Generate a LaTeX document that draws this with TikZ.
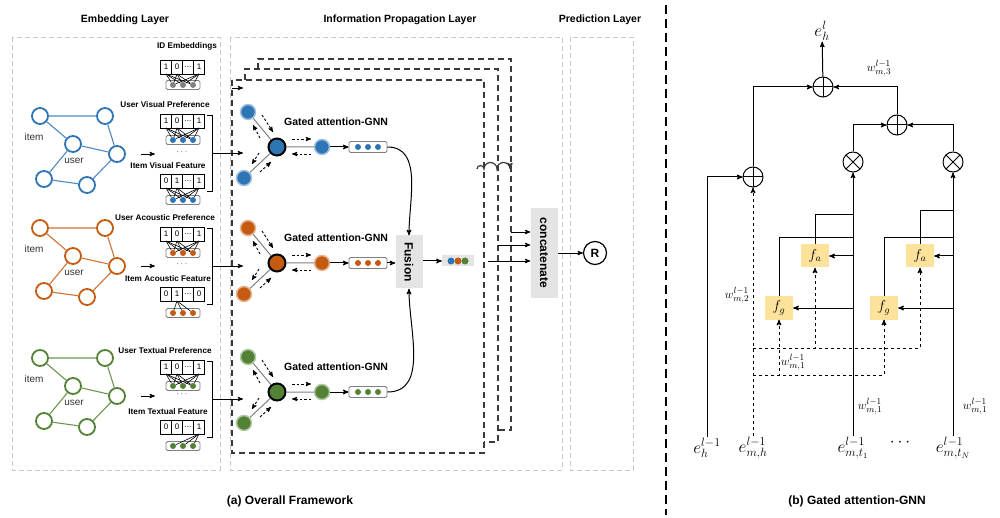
\documentclass[tikz,border=0pt]{standalone}
\usepackage{fontspec}
\setmainfont{Liberation Sans}
\usetikzlibrary{positioning, arrows, calc}

\definecolor{vis}{HTML}{2E75B6}
\definecolor{aco}{HTML}{C55A11}
\definecolor{txt}{HTML}{548235}
\definecolor{frm}{HTML}{3A3A3A}
\definecolor{lgray}{HTML}{C8C8C8}
\definecolor{fbox}{HTML}{E4E4E4}
\definecolor{fyel}{HTML}{FCE29A}

\tikzset{>=stealth',
  layertitle/.style={font=\bfseries\fontsize{10.5}{12}\selectfont},
  capt/.style={font=\bfseries\fontsize{12}{14}\selectfont},
  smalltag/.style={font=\bfseries\fontsize{8.2}{9}\selectfont, inner sep=1pt},
  gnnlabel/.style={font=\bfseries\fontsize{10.5}{12}\selectfont},
  plain/.style={font=\fontsize{10}{11}\selectfont, text=black!80},
  gnode/.style={circle, draw, fill=white, line width=1.8pt, minimum size=16pt, inner sep=0pt},
  gedge/.style={line width=1.1pt},
  vcell/.style={draw, line width=0.8pt, minimum width=11pt, minimum height=14pt, inner sep=0pt, outer sep=0pt, font=\fontsize{8}{8}\selectfont},
  dotbox/.style={draw=gray, line width=0.8pt, rounded corners=1.5pt, minimum width=34pt, minimum height=9pt, inner sep=0pt},
  edot/.style={circle, inner sep=0pt, minimum size=6pt},
  anode/.style={circle, inner sep=0pt, minimum size=15pt, line width=1.5pt},
  gframe/.style={dash pattern=on 6pt off 4pt, line width=1.3pt, draw=frm},
  lbox/.style={dash pattern=on 5pt off 3pt, draw=lgray, line width=0.8pt},
  darrow/.style={->, dash pattern=on 2.5pt off 2pt, line width=0.9pt},
  opbox/.style={fill=fbox, inner sep=0pt, font=\bfseries\fontsize{12}{12}\selectfont},
  wire/.style={line width=1pt},
  oplus/.style={circle, draw, line width=1pt, minimum size=20pt, inner sep=0pt,
    path picture={\draw[line width=1pt] (path picture bounding box.north) -- (path picture bounding box.south)
      (path picture bounding box.west) -- (path picture bounding box.east);}},
  otimes/.style={circle, draw, line width=1pt, minimum size=20pt, inner sep=0pt,
    path picture={\draw[line width=1pt] (path picture bounding box.north west) -- (path picture bounding box.south east)
      (path picture bounding box.north east) -- (path picture bounding box.south west);}},
  fbx/.style={fill=fyel, minimum width=28pt, minimum height=23pt, inner sep=0pt, font=\fontsize{14}{14}\selectfont},
  mlab/.style={font=\fontsize{17}{17}\selectfont, inner sep=1pt},
  wlab/.style={font=\fontsize{13}{13}\selectfont, inner sep=0pt}
}

\begin{document}
\begin{tikzpicture}[x=1pt, y=-1pt]
    \useasboundingbox (0,0) rectangle (1000,518);

    % layer boxes and titles
    \draw[lbox] (12,37) rectangle (220,470);
    \draw[lbox] (230,37) rectangle (562,470);
    \draw[lbox] (570,37) rectangle (633,470);
    \node[layertitle] (t1) at (125,20) {Embedding Layer};
    \node[layertitle] (t2) at (400,20) {Information Propagation Layer};
    \node[layertitle] (t3) at (600,20) {Prediction Layer};

    % stacked propagation frames
    \draw[gframe] (258,69) -- (258,59) -- (511,59) -- (511,430) -- (498,430);
    \draw[gframe] (245,80) -- (245,69) -- (498,69) -- (498,442) -- (484,442);
    \draw[gframe] (232,80) rectangle (484,453);
    \draw[line width=1.2pt, frm, ->] (477,169) arc[start angle=180, end angle=0, radius=3.5pt]
        arc[start angle=180, end angle=0, radius=6.5pt] arc[start angle=180, end angle=0, radius=6.5pt];

    % ID embeddings
    \node[smalltag] (idlab) at (187,46) {ID Embeddings};
    \node[vcell] (id1) at (166,67) {1};
    \node[vcell, right=0pt of id1] (id2) {0};
    \node[vcell, right=0pt of id2] (id3) {...};
    \node[vcell, right=0pt of id3] (id4) {1};
    \node[dotbox] (idb) at (183,85) {};
    \foreach \d/\dx in {1/-10, 2/0, 3/10}
        \node[edot, fill=gray] (idd\d) at (183+\dx,85) {};
    \foreach \k in {1,2,4}
        \foreach \d in {1,2,3}
            \draw[line width=0.6pt] (id\k.south) -- (idd\d);
    \coordinate (idin) at (232,88);
    \coordinate (idout) at (243,88);
    \draw[->, line width=0.9pt] (idin) -- (idout);

    % one row per modality
    \foreach \col/\mo/\gy/\uy/\py/\va/\vb/\vc/\lk in
        {vis/Visual/116/114/147/0/1/1/{1,2,4},
         aco/Acoustic/228/227/263/0/1/0/2,
         txt/Textual/358/360/392/0/0/1/4}
    {
        % user-item graph
        \node[gnode, draw=\col] (\col-g1) at (40,\gy) {};
        \node[gnode, draw=\col] (\col-g2) at (105,\gy) {};
        \node[gnode, draw=\col] (\col-g3) at (73,\gy+28) {};
        \node[gnode, draw=\col] (\col-g4) at (117,\gy+38) {};
        \node[gnode, draw=\col] (\col-g5) at (44,\gy+63) {};
        \node[gnode, draw=\col] (\col-g6) at (87,\gy+69) {};
        \draw[gedge, \col!85] (\col-g1) -- (\col-g2) (\col-g1) -- (\col-g3) (\col-g2) -- (\col-g4)
            (\col-g3) -- (\col-g4) (\col-g3) -- (\col-g5) (\col-g5) -- (\col-g6) (\col-g6) -- (\col-g4);
        \node[plain] (\col-item) at (34,\gy+21) {item};
        \node[plain] (\col-user) at (74,\gy+45) {user};
        \path (\col-g4.east) ++(15,0) coordinate (\col-a0) ++(14,0) coordinate (\col-a1);
        \draw[->, line width=0.9pt] (\col-a0) -- (\col-a1);
        \node[font=\fontsize{9}{9}\selectfont] (\col-dots) at (182,\gy+36) {$\cdots$};

        % preference and feature vectors
        \node[smalltag] (\col-ulab) at (165,\uy-9) {User \mo\ Preference};
        \node[vcell] (\col-u1) at (166,\uy+7) {1};
        \node[vcell, right=0pt of \col-u1] (\col-u2) {0};
        \node[vcell, right=0pt of \col-u2] (\col-u3) {...};
        \node[vcell, right=0pt of \col-u3] (\col-u4) {1};
        \node[dotbox] (\col-ub) at (183,\uy+26) {};
        \foreach \d/\dx in {1/-10, 2/0, 3/10}
            \node[edot, fill=\col] (\col-ud\d) at (183+\dx,\uy+26) {};
        \foreach \k in {1,2,4}
            \foreach \d in {1,2,3}
                \draw[line width=0.6pt] (\col-u\k.south) -- (\col-ud\d);

        \node[smalltag] (\col-ilab) at (168,\uy+52) {Item \mo\ Feature};
        \node[vcell] (\col-i1) at (166,\uy+67) {\va};
        \node[vcell, right=0pt of \col-i1] (\col-i2) {\vb};
        \node[vcell, right=0pt of \col-i2] (\col-i3) {...};
        \node[vcell, right=0pt of \col-i3] (\col-i4) {\vc};
        \node[dotbox] (\col-ib) at (183,\uy+86) {};
        \foreach \d/\dx in {1/-10, 2/0, 3/10}
            \node[edot, fill=\col] (\col-id\d) at (183+\dx,\uy+86) {};
        \foreach \k in \lk
            \foreach \d in {1,2,3}
                \draw[line width=0.6pt] (\col-i\k.south) -- (\col-id\d);

        % bracket into the propagation layer
        \draw[line width=0.8pt] (207,\uy+1) -| (212,\uy+77) -- (207,\uy+77);
        \coordinate (\col-br) at (212,\uy+39);
        \coordinate (\col-in) at (243,\uy+39);
        \draw[->, line width=0.9pt] (\col-br) -- (\col-in);

        % gated attention GNN
        \begin{scope}[shift={(277,\py)}]
            \node[anode, fill=\col, draw=\col!45] (\col-n1) at (-29,-35) {};
            \node[anode, fill=\col, draw=\col!45] (\col-n2) at (-33,31) {};
            \node[anode, fill=\col, draw=black, line width=2pt, minimum size=17pt] (\col-n0) at (0,0) {};
            \node[anode, fill=\col, draw=\col!45] (\col-n3) at (45,0) {};
            \draw[gray, line width=1pt] (\col-n0) -- (\col-n1) (\col-n0) -- (\col-n2) (\col-n0) -- (\col-n3);
            \draw[darrow] (-15,-32) -- (-4,-15);
            \draw[darrow] (-17,-9) -- (-24,-22);
            \draw[darrow] (-18,6) -- (-25,17);
            \draw[darrow] (-17,25) -- (-6,15);
            \draw[darrow] (15,-8) -- (34,-8);
            \draw[darrow] (34,7) -- (15,7);
            \node[dotbox, minimum width=38pt, minimum height=11pt, fill=white] (\col-vec) at (91,0) {};
            \foreach \d/\dx in {1/-10, 2/0, 3/10}
                \node[edot, fill=\col] (\col-vd\d) at (91+\dx,0) {};
            \draw[->, line width=1pt] (\col-n3) -- (\col-vec);
            \node[gnnlabel] (\col-glab) at (59,-25) {Gated attention-GNN};
        \end{scope}
    }

    % fusion and prediction
    \node[opbox, minimum width=27pt, minimum height=53pt] (fus) at (409,262) {\rotatebox{-90}{Fusion}};
    \draw[->, line width=1pt] (vis-vec.east) to[out=0, in=90] (fus.north);
    \draw[->, line width=1pt] (txt-vec.east) to[out=0, in=-90] (fus.south);
    \draw[->, line width=1pt] (aco-vec.east) -- (aco-vec.east -| fus.west);
    \node[fill=fbox, minimum width=32pt, minimum height=11pt, inner sep=0pt] (fz) at (458,261) {};
    \node[edot, minimum size=7pt, fill=vis] (fz1) at (451,261) {};
    \node[edot, minimum size=7pt, fill=aco] (fz2) at (458,261) {};
    \node[edot, minimum size=7pt, fill=txt] (fz3) at (465,261) {};
    \draw[->, line width=1pt] (fus.east |- fz) -- (fz.west);

    \node[opbox, minimum width=27pt, minimum height=90pt] (cat) at (544,253) {\rotatebox{-90}{concatenate}};
    \coordinate (o1) at (488,261);
    \coordinate (o2) at (498,245);
    \coordinate (o3) at (511,232);
    \draw[->, line width=0.9pt] (o1) -- (o1 -| cat.west);
    \draw[->, line width=0.9pt] (o2) -- (o2 -| cat.west);
    \draw[->, line width=0.9pt] (o3) -- (o3 -| cat.west);
    \node[circle, draw, line width=1.2pt, minimum size=23pt, inner sep=0pt,
          font=\bfseries\fontsize{12}{12}\selectfont] (R) at (595,253) {R};
    \draw[->, line width=0.9pt] (cat) -- (R);

    \node[capt] (capa) at (290,501) {(a) Overall Framework};

    % separator
    \draw[line width=2pt, dash pattern=on 9pt off 5pt] (666,5) -- (666,515);

    % (b) gated attention-GNN
    \node[oplus] (pt) at (823,87) {};
    \node[oplus] (pm) at (897,125) {};
    \node[otimes] (x1) at (853,162) {};
    \node[otimes] (x2) at (953,162) {};
    \node[oplus] (pl) at (753,177) {};
    \node[fbx] (fa1) at (815,256) {$f_a$};
    \node[fbx] (fa2) at (920,256) {$f_a$};
    \node[fbx] (fg1) at (779,308) {$f_g$};
    \node[fbx] (fg2) at (884,308) {$f_g$};
    \node[mlab] (ehl) at (822,31) {$e_h^{l}$};
    \node[mlab] (eh) at (707,448) {$e_h^{l-1}$};
    \node[mlab] (emh) at (753,448) {$e_{m,h}^{l-1}$};
    \node[mlab] (em1) at (853,448) {$e_{m,t_1}^{l-1}$};
    \node[mlab] (edots) at (900,443) {$\cdots$};
    \node[mlab] (emn) at (953,448) {$e_{m,t_N}^{l-1}$};
    \node[wlab] (w3) at (879,68) {$w_{m,3}^{l-1}$};
    \node[wlab] (w2) at (737,295) {$w_{m,2}^{l-1}$};
    \node[wlab] (w1a) at (793,362) {$w_{m,1}^{l-1}$};
    \node[wlab] (w1b) at (870,406) {$w_{m,1}^{l-1}$};
    \node[wlab] (w1c) at (975,406) {$w_{m,1}^{l-1}$};

    \draw[wire, ->] (pt) -- (ehl);
    \draw[wire, ->] (pl) |- (pt);
    \draw[wire, ->] (pm) |- (pt);
    \draw[wire, ->] (x1) |- (pm);
    \draw[wire, ->] (x2) |- (pm);
    \draw[wire, ->] (eh) |- (pl);
    \draw[wire, ->] (em1) -- (x1);
    \draw[wire, ->] (emn) -- (x2);
    \draw[wire, ->] (fa1.east -| x1) -- (fa1.east);
    \draw[wire, ->] (fg1.east -| x1) -- (fg1.east);
    \draw[wire, ->] (fa2.east -| x2) -- (fa2.east);
    \draw[wire, ->] (fg2.east -| x2) -- (fg2.east);
    \coordinate (j1) at (853,215);
    \coordinate (k1) at (853,238);
    \coordinate (j2) at (953,211);
    \coordinate (k2) at (953,238);
    \draw[wire] (fa1) |- (j1);
    \draw[wire] (fg1) |- (k1);
    \draw[wire] (fa2) |- (j2);
    \draw[wire] (fg2) |- (k2);
    \coordinate (d1) at (753,348);
    \coordinate (d2) at (753,375);
    \draw[wire, dashed, ->] (emh) -- (pl);
    \draw[wire, dashed, ->] (d1) -| (fa1);
    \draw[wire, dashed, ->] (d1) -| (fa2);
    \draw[wire, dashed, ->] (d2) -| (fg1);
    \draw[wire, dashed, ->] (d2) -| (fg2);

    \node[capt] (capb) at (857,501) {(b) Gated attention-GNN};
\end{tikzpicture}
\end{document}
